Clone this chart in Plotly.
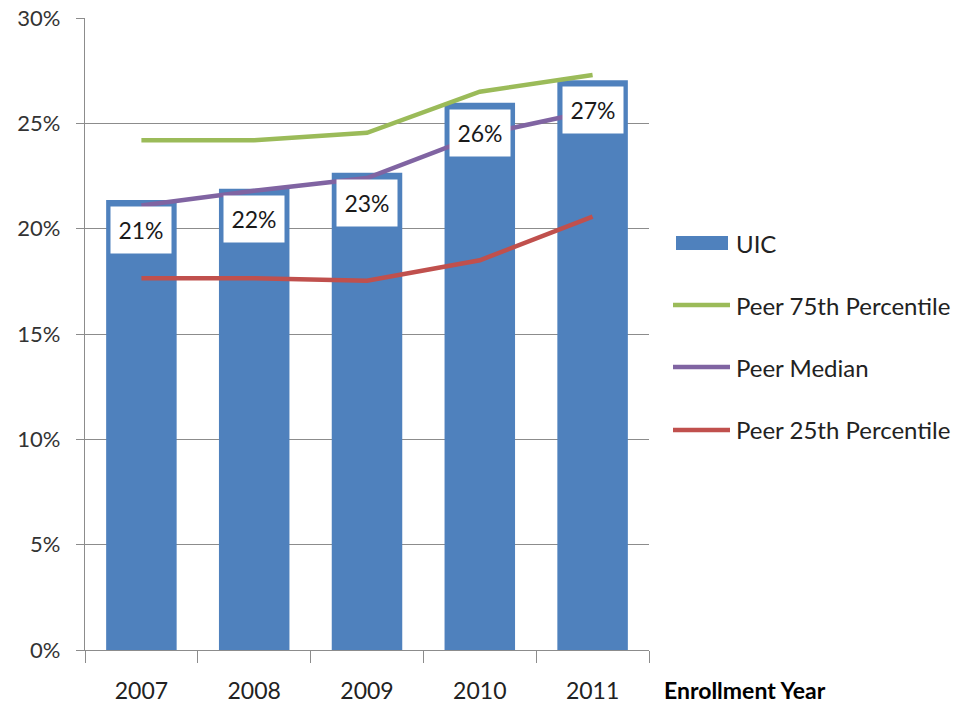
import plotly.graph_objects as go

years = ["2007", "2008", "2009", "2010", "2011"]
uic = [21.36, 21.9, 22.65, 25.98, 27.05]
uic_labels = ["21%", "22%", "23%", "26%", "27%"]
peer75 = [24.2, 24.2, 24.55, 26.5, 27.29]
peer_median = [21.1, 21.8, 22.4, 24.45, 25.6]
peer25 = [17.65, 17.65, 17.53, 18.5, 20.57]
y_ticks = [0, 5, 10, 15, 20, 25, 30]
y_tick_text = ["0%", "5%", "10%", "15%", "20%", "25%", "30%"]
series_names = ["UIC", "Peer 75th Percentile", "Peer Median", "Peer 25th Percentile"]
series_colors = ["#4F81BD", "#9BBB59", "#8064A2", "#C0504D"]

FONT = "Lato, Carlito, Calibri, sans-serif"
xs = list(range(len(years)))

# plot area in screen pixels (page has an 8px body margin)
OFF = 8
PL, PR, PT, PB = 85, 649, 18, 650
W, H = 960, 703


def px(sx):
    return (sx - PL) / (PR - PL)


def py(sy):
    return (PB - sy) / (PB - PT)


fig = go.Figure()
fig.add_trace(go.Bar(x=xs, y=uic, name=series_names[0], marker_color=series_colors[0],
                     width=0.625, marker_line_width=0))
for vals, name, col in zip([peer75, peer_median, peer25], series_names[1:], series_colors[1:]):
    fig.add_trace(go.Scatter(x=xs, y=vals, name=name, mode="lines",
                             line=dict(color=col, width=4.5)))

for xi, v, t in zip(xs, uic, uic_labels):
    fig.add_annotation(x=xi, y=v, text=t, showarrow=False, yshift=-30,
                       bgcolor="white", width=58, height=44,
                       font=dict(family=FONT, size=23, color="#1a1a1a"))

fig.add_annotation(text="<b>Enrollment Year</b>", xref="paper", yref="paper",
                   x=px(662), y=py(690), xanchor="left", yanchor="middle",
                   showarrow=False, font=dict(family=FONT, size=23, color="black"))

# legend drawn manually to match the original symbol sizes and spacing
legend_y = [243, 305, 367, 430]
fig.add_shape(type="rect", xref="paper", yref="paper",
              x0=px(676), x1=px(728), y0=py(250), y1=py(236),
              fillcolor=series_colors[0], line_width=0)
for yy, col in zip(legend_y[1:], series_colors[1:]):
    fig.add_shape(type="line", xref="paper", yref="paper",
                  x0=px(673), x1=px(730), y0=py(yy), y1=py(yy),
                  line=dict(color=col, width=4.5))
for yy, name in zip(legend_y, series_names):
    fig.add_annotation(text=name, xref="paper", yref="paper", x=px(734), y=py(yy),
                       xanchor="left", yanchor="middle", showarrow=False,
                       font=dict(family=FONT, size=24, color="#222222"))

fig.update_layout(
    width=W, height=H,
    margin=dict(l=PL - OFF, r=W - (PR - OFF), t=PT - OFF, b=H - (PB - OFF)),
    plot_bgcolor="white", paper_bgcolor="white",
    font=dict(family=FONT, size=20, color="#333333"),
    showlegend=False,
)
fig.update_yaxes(range=[0, 30], tickvals=y_ticks, ticktext=[t + "  " for t in y_tick_text],
                 automargin=False, ticklabeloverflow="allow",
                 showgrid=True, gridcolor="#8c8c8c", gridwidth=1,
                 showline=True, linecolor="#8c8c8c", linewidth=1,
                 ticks="outside", ticklen=8, tickcolor="#8c8c8c",
                 zeroline=False,
                 tickfont=dict(family=FONT, size=22, color="#333333"))
fig.update_xaxes(range=[-0.5, 4.5], tickvals=xs, ticktext=years,
                 automargin=False, ticklabeloverflow="allow",
                 showline=True, linecolor="#8c8c8c", linewidth=1,
                 showgrid=False, zeroline=False,
                 ticks="outside", ticklen=20, tickcolor="rgba(0,0,0,0)",
                 minor=dict(tickvals=[i - 0.5 for i in range(len(years) + 1)],
                            ticks="outside", ticklen=12, tickcolor="#8c8c8c", showgrid=False),
                 tickfont=dict(family=FONT, size=23, color="#222222"))

fig.write_html("out.html")
